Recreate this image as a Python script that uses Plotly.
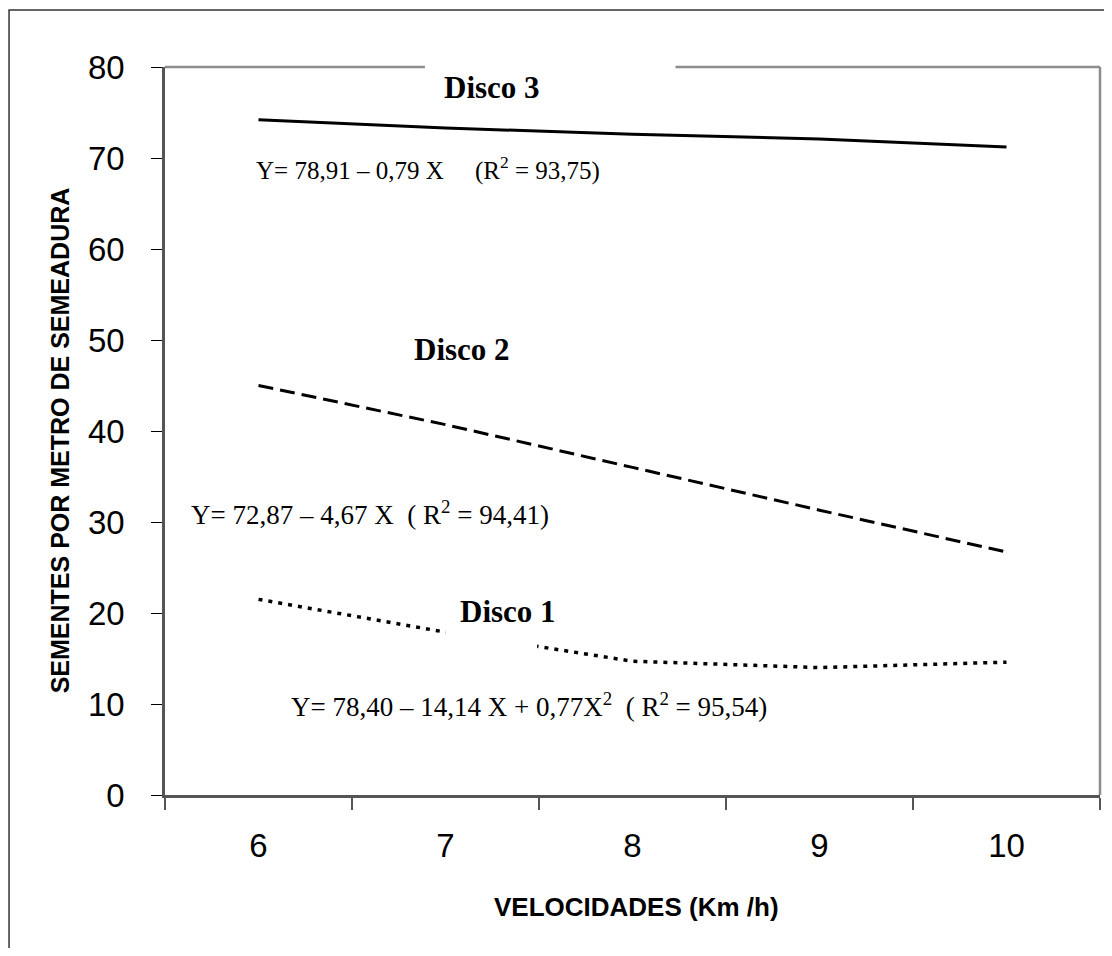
import plotly.graph_objects as go

# ---- data ----
velocidades = [6, 7, 8, 9, 10]
disco1 = [21.5, 17.9, 14.7, 14.0, 14.6]
disco2 = [45.0, 40.7, 36.0, 31.3, 26.7]
disco3 = [74.2, 73.3, 72.6, 72.1, 71.2]
y_ticks = [0, 10, 20, 30, 40, 50, 60, 70, 80]
x_bounds = [5.5, 6.5, 7.5, 8.5, 9.5, 10.5]

SANS = "Liberation Sans, Arial, sans-serif"
SERIF = "Liberation Serif, Times New Roman, serif"

fig = go.Figure()
fig.add_trace(go.Scatter(x=velocidades, y=disco3, mode="lines",
                         line=dict(color="black", width=3), showlegend=False))
fig.add_trace(go.Scatter(x=velocidades, y=disco2, mode="lines",
                         line=dict(color="black", width=3, dash="15px,7px"), showlegend=False))
fig.add_trace(go.Scatter(x=velocidades, y=disco1, mode="lines",
                         line=dict(color="black", width=3.5, dash="4px,6px"), showlegend=False))

shapes = []
# white box behind "Disco 1" label that interrupts the dotted line
shapes.append(dict(type="rect", xref="x", yref="y", x0=7.0, x1=7.49, y0=15.6, y1=23,
                   fillcolor="white", line=dict(width=0), layer="above"))
# plot frame: top (with gap for Disco 3 label box) and right
shapes.append(dict(type="line", xref="x", yref="paper", x0=5.5, x1=6.89, y0=1, y1=1,
                   line=dict(color="#8c8c8c", width=2.5)))
shapes.append(dict(type="line", xref="x", yref="paper", x0=8.23, x1=10.5, y0=1, y1=1,
                   line=dict(color="#8c8c8c", width=2.5)))
shapes.append(dict(type="line", xref="paper", yref="paper", x0=1, x1=1, y0=0, y1=1,
                   line=dict(color="#8c8c8c", width=2.5)))
# outer frame
shapes.append(dict(type="rect", xref="paper", yref="paper", x0=-0.1668, x1=1.05, y0=-0.25, y1=1.0783,
                   line=dict(color="#333333", width=1.5), fillcolor="rgba(0,0,0,0)"))

annotations = [
    dict(text="<b>Disco 3</b>", x=7.25, y=77.8, xref="x", yref="y", showarrow=False,
         font=dict(family=SERIF, size=31, color="black")),
    dict(text="Y= 78,91 – 0,79 X     (R<sup>2</sup> = 93,75)", x=5.976, y=68.8, xref="x", yref="y",
         xanchor="left", showarrow=False, font=dict(family=SERIF, size=25, color="black")),
    dict(text="<b>Disco 2</b>", x=7.09, y=49.0, xref="x", yref="y", showarrow=False,
         font=dict(family=SERIF, size=31, color="black")),
    dict(text="Y= 72,87 – 4,67 X  ( R<sup>2</sup> = 94,41)", x=5.628, y=31.0, xref="x", yref="y",
         xanchor="left", showarrow=False, font=dict(family=SERIF, size=27, color="black")),
    dict(text="<b>Disco 1</b>", x=7.334, y=20.2, xref="x", yref="y", showarrow=False,
         font=dict(family=SERIF, size=31, color="black")),
    dict(text="Y= 78,40 – 14,14 X + 0,77X<sup>2</sup>  ( R<sup>2</sup> = 95,54)", x=6.163, y=9.9,
         xref="x", yref="y", xanchor="left", showarrow=False,
         font=dict(family=SERIF, size=27, color="black")),
    dict(text="<b>VELOCIDADES (Km /h)</b>", x=0.504, y=-0.1538, xref="paper", yref="paper",
         xanchor="center", yanchor="middle",
         showarrow=False, font=dict(family=SANS, size=26, color="black")),
    dict(text="<b>SEMENTES POR METRO DE SEMEADURA</b>", x=-0.112, y=0.4876, xref="paper", yref="paper",
         xanchor="center", yanchor="middle",
         textangle=-90, showarrow=False, font=dict(family=SANS, size=25, color="black")),
]

fig.update_layout(
    width=1096, height=940,
    margin=dict(l=157, r=4, t=59, b=153),
    paper_bgcolor="white", plot_bgcolor="white",
    shapes=shapes, annotations=annotations,
    showlegend=False,
)
fig.update_xaxes(range=[5.5, 10.5], tickmode="array", tickvals=velocidades,
                 ticktext=[str(v) for v in velocidades], ticks="", showgrid=False, zeroline=False,
                 showline=True, linecolor="#555555", linewidth=2.5,
                 tickfont=dict(family=SANS, size=33, color="black"), ticklabelstandoff=20,
                 minor=dict(tickmode="array", tickvals=x_bounds, ticks="outside", ticklen=12,
                            tickwidth=1.5, tickcolor="#555555", showgrid=False))
fig.update_yaxes(range=[0, 80], tickmode="array", tickvals=y_ticks, ticks="outside", ticklen=11,
                 tickwidth=1.2, tickcolor="black", showgrid=False, zeroline=False,
                 showline=True, linecolor="#555555", linewidth=2.5,
                 tickfont=dict(family=SANS, size=33, color="black"), ticklabelstandoff=20)

fig.write_html("out.html")
